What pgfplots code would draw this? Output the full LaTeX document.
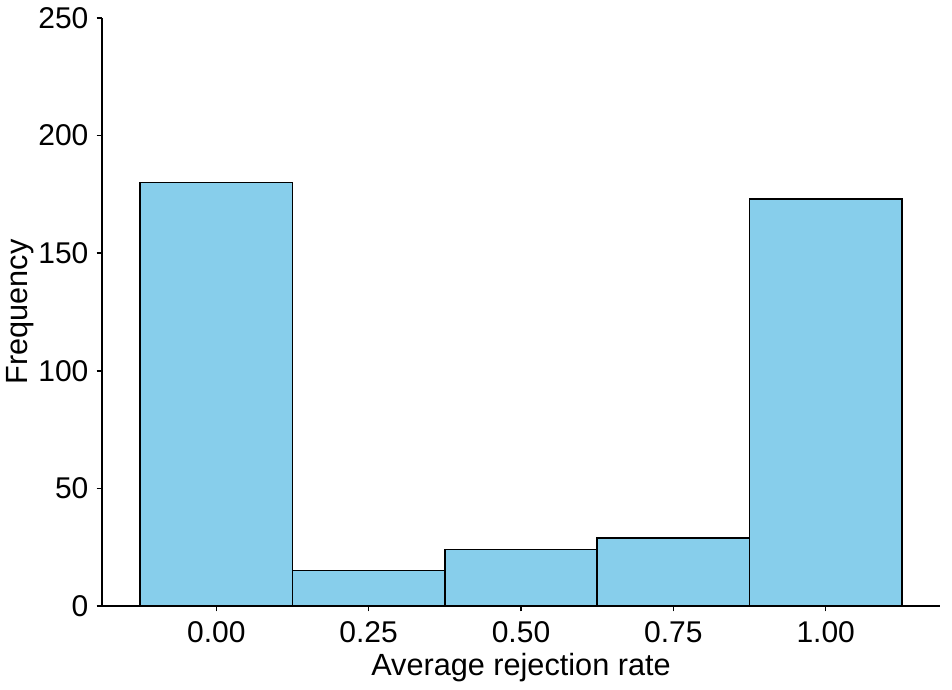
\documentclass[border=0pt]{standalone}
\usepackage{pgfplots}
\pgfplotsset{compat=1.18}
\usepackage{fontspec}
\setmainfont{Liberation Sans}
\definecolor{skyblue}{RGB}{135,206,235}
\begin{document}
\fontsize{22.5}{26}\selectfont
\begin{tikzpicture}
\useasboundingbox (-76.5pt,-62.25pt) rectangle (637.5pt,454.5pt);
\begin{axis}[
  at={(0,0)}, anchor=south west,
  scale only axis,
  width=628.5pt, height=441pt,
  xmin=-0.1875, xmax=1.1875,
  ymin=0, ymax=250,
  axis x line=bottom, axis y line=left,
  axis line style={-, line width=1.1pt},
  tick style={line width=1.1pt, black},
  tick align=outside,
  major tick length=4pt,
  xtick={0,0.25,0.5,0.75,1},
  xticklabels={0.00,0.25,0.50,0.75,1.00},
  ytick={0,50,100,150,200,250},
  /pgf/number format/assume math mode=true,
  tick label style={font=\fontsize{22.5}{26}\selectfont, black},
  xticklabel style={yshift=0pt},
  yticklabel style={xshift=1.5pt},
  label style={font=\fontsize{23}{27}\selectfont, black},
  xlabel={Average rejection rate},
  ylabel={Frequency},
  xlabel style={at={(axis description cs:0.5,-0.118)}, anchor=base},
  ylabel style={at={(axis description cs:-0.0895,0.5)}, anchor=base},
  clip=false,
]
\addplot[ybar interval, fill=skyblue, draw=black, line width=1.1pt]
  coordinates {(-0.125,180) (0.125,15) (0.375,24) (0.625,29) (0.875,173) (1.125,173)};
\end{axis}
\end{tikzpicture}
\end{document}
